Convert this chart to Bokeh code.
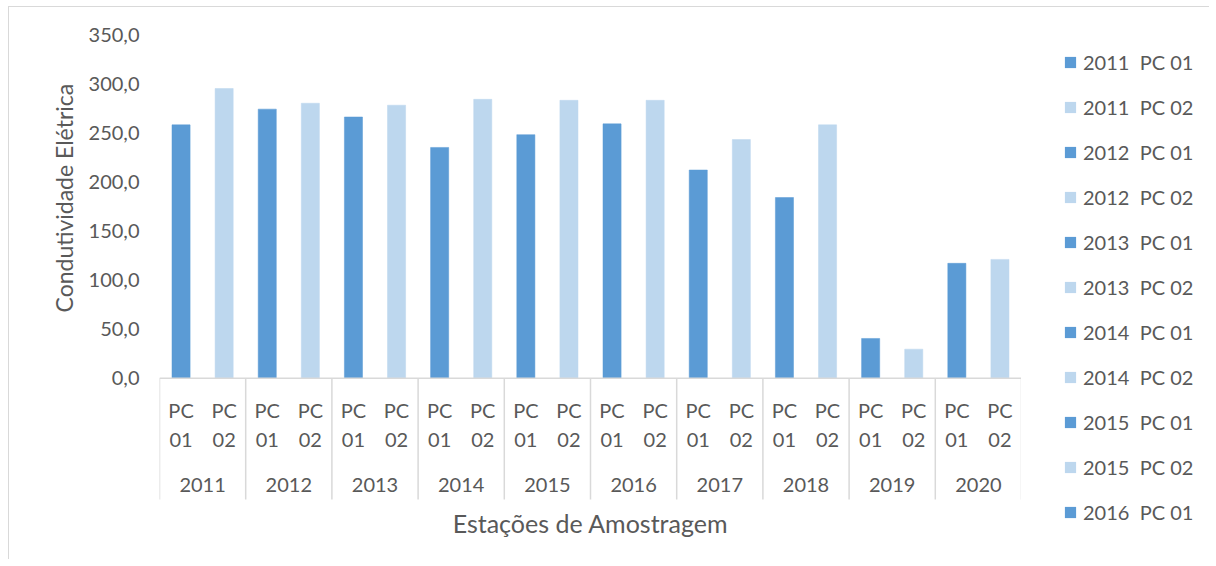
from bokeh.plotting import figure
from bokeh.layouts import row
from bokeh.models import (FactorRange, Range1d, ColumnDataSource, FixedTicker, Span,
                          Legend, LegendItem, Title)
from bokeh.transform import dodge
from bokeh.core.properties import value
from bokeh.embed import file_html
from bokeh.resources import INLINE

# ---- data ----
years = ["2011", "2012", "2013", "2014", "2015", "2016", "2017", "2018", "2019", "2020"]
stations = ["PC 01", "PC 02"]
pc01 = [258, 274, 266, 235, 248, 259, 212, 184, 40.5, 117]
pc02 = [295, 280, 278, 284, 283, 283, 243, 258, 29.6, 121]
y_ticks = [0, 50, 100, 150, 200, 250, 300, 350]
legend_count = 11

FONT = "Lato"
TXT = "#595959"
GRID = "#d9d9d9"
colors_by_station = {"PC 01": "#5B9BD5", "PC 02": "#BDD7EE"}

factors = [(y, s) for y in years for s in stations]
vals = []
for a, b in zip(pc01, pc02):
    vals += [a, b]
src = ColumnDataSource(dict(
    x=factors, top=vals,
    color=[colors_by_station[s] for _, s in factors],
    w1=[s.split(" ")[0] for _, s in factors],
    w2=[s.split(" ")[1] for _, s in factors],
))

p = figure(x_range=FactorRange(*factors, factor_padding=0, group_padding=0, range_padding=0),
           y_range=Range1d(-124.5, 350),
           width=1012, height=552, output_backend="svg", toolbar_location=None,
           min_border_left=150, min_border_top=27, min_border_right=0, min_border_bottom=59)
p.frame_align = False
p.outline_line_color = None
p.grid.visible = False
p.xaxis.visible = False

bars = p.vbar(x="x", top="top", width=0.42, fill_color="color", line_color="color",
              line_width=0.5, source=src)

# axis line at zero
p.add_layout(Span(location=0, dimension="width", line_color=GRID, line_width=1.5))

# group separators
sep_src = ColumnDataSource(dict(x=[(y, stations[0]) for y in years]))
p.segment(x0=dodge("x", -0.5, range=p.x_range), y0=0,
          x1=dodge("x", -0.5, range=p.x_range), y1=-123.5,
          line_color=GRID, line_width=1.5, source=sep_src)
end_src = ColumnDataSource(dict(x=[(years[-1], stations[-1])]))
p.segment(x0=dodge("x", 0.5, range=p.x_range), y0=0,
          x1=dodge("x", 0.5, range=p.x_range), y1=-123.5,
          line_color=GRID, line_width=1.5, source=end_src)

# category labels
common = dict(text_font=value(FONT), text_font_size=value("20px"), text_color=TXT,
              text_align="center", text_baseline="middle")
p.text(x="x", y=0, text="w1", y_offset=32, source=src, **common)
p.text(x="x", y=0, text="w2", y_offset=62, source=src, **common)
ysrc = ColumnDataSource(dict(x=years, t=years))
p.text(x="x", y=0, text="t", y_offset=107, source=ysrc, **common)

# y axis
yax = p.yaxis[0]
yax.ticker = FixedTicker(ticks=y_ticks)
yax.major_label_overrides = {t: f"{t:.1f}".replace(".", ",") for t in y_ticks}
yax.axis_line_color = None
yax.major_tick_line_color = None
yax.minor_tick_line_color = None
yax.major_tick_out = 0
yax.major_tick_in = 0
yax.major_label_standoff = 20
yax.major_label_text_font = FONT
yax.major_label_text_font_size = "20px"
yax.major_label_text_color = TXT

p.add_layout(Title(text="Condutividade Elétrica", align="left", offset=188, standoff=16,
                   text_font=FONT, text_font_size="23px", text_font_style="normal",
                   text_color=TXT), "left")

p.add_layout(Title(text="Estações de Amostragem", align="center",
                   text_font=FONT, text_font_size="25px", text_font_style="normal",
                   text_color=TXT), "below")

# ---- legend panel (separate figure, same bar data kept out of view) ----
pl = figure(x_range=FactorRange(*factors, factor_padding=0, group_padding=0, range_padding=0),
            y_range=Range1d(1000, 2000),
            width=188, height=552, output_backend="svg", toolbar_location=None,
            min_border_left=0, min_border_top=0, min_border_right=0, min_border_bottom=0)
pl.frame_align = False
pl.axis.visible = False
pl.grid.visible = False
pl.outline_line_color = None
lbars = pl.vbar(x="x", top="top", width=0.42, fill_color="color", line_color=None,
                source=src)

items = [LegendItem(label=f"{factors[i][0]}  {factors[i][1]}", renderers=[lbars], index=i)
         for i in range(legend_count)]
leg = Legend(items=items, location=(42, 32), orientation="vertical",
             glyph_width=14, glyph_height=14, label_height=30, spacing=15,
             label_standoff=6, padding=0, margin=0, border_line_color=None,
             background_fill_alpha=0,
             label_text_font=FONT, label_text_font_size="20px", label_text_color=TXT)
pl.add_layout(leg, "center")

layout = row(p, pl, spacing=0)
layout.styles = {"margin-left": "8px", "margin-top": "6px",
                 "border-left": "1px solid #d9d9d9", "border-top": "1px solid #d9d9d9"}

open("out.html", "w").write(file_html(layout, INLINE))
